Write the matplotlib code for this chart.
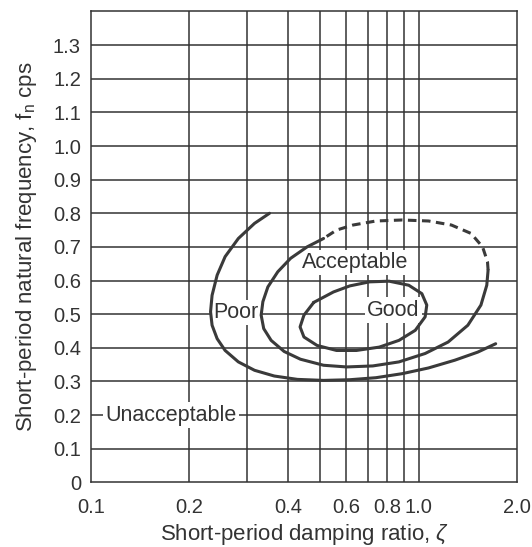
"""
Short-period flying qualities chart (damping ratio vs natural frequency)
"""

import matplotlib
matplotlib.use("Agg")
import matplotlib.pyplot as plt
from matplotlib.ticker import FixedLocator, NullLocator

plt.rcParams["font.family"] = ["Liberation Sans", "DejaVu Sans"]
plt.rcParams["mathtext.fontset"] = "custom"
plt.rcParams["mathtext.rm"] = "Liberation Sans"
plt.rcParams["mathtext.it"] = "Liberation Sans:italic"

INK = "#333333"

# outer boundary: Unacceptable / Poor
poor_x = [0.351, 0.316, 0.282, 0.257, 0.243, 0.2345, 0.232, 0.2345, 0.243, 0.257,
          0.282, 0.316, 0.363, 0.427, 0.513, 0.617, 0.741, 0.891, 1.072, 1.289,
          1.514, 1.718]
poor_y = [0.800, 0.770, 0.725, 0.671, 0.616, 0.556, 0.507, 0.467, 0.427, 0.392,
          0.358, 0.333, 0.316, 0.306, 0.303, 0.305, 0.311, 0.323, 0.340, 0.363,
          0.387, 0.412]

# middle boundary: Poor / Acceptable (solid part)
acc_x = [0.513, 0.457, 0.407, 0.372, 0.347, 0.335, 0.331, 0.337, 0.355, 0.389,
         0.436, 0.513, 0.603, 0.725, 0.871, 1.047, 1.230, 1.413, 1.549, 1.614,
         1.629]
acc_y = [0.725, 0.700, 0.666, 0.626, 0.581, 0.537, 0.497, 0.457, 0.422, 0.389,
         0.366, 0.348, 0.343, 0.346, 0.358, 0.383, 0.417, 0.467, 0.527, 0.586,
         0.631]

# middle boundary, dashed top part
acc_dash_x = [1.629, 1.622, 1.567, 1.445, 1.259, 1.072, 0.891, 0.741, 0.631, 0.562, 0.513]
acc_dash_y = [0.631, 0.656, 0.700, 0.740, 0.765, 0.777, 0.780, 0.777, 0.765, 0.750, 0.725]

# inner boundary: Acceptable / Good (closed)
good_x = [0.479, 0.447, 0.435, 0.447, 0.490, 0.562, 0.646, 0.759, 0.871, 0.977,
          1.047, 1.059, 1.023, 0.933, 0.813, 0.708, 0.617, 0.550, 0.501, 0.479]
good_y = [0.535, 0.497, 0.462, 0.432, 0.407, 0.392, 0.392, 0.402, 0.422, 0.452,
          0.492, 0.527, 0.561, 0.586, 0.598, 0.596, 0.584, 0.566, 0.545, 0.535]

region_names = ["Unacceptable", "Poor", "Acceptable", "Good"]
region_x = [0.1754, 0.278, 0.640, 0.836]
region_y = [0.200, 0.505, 0.653, 0.512]

x_ticks = [0.1, 0.2, 0.4, 0.6, 0.8, 1.0, 2.0]
x_tick_labels = ["0.1", "0.2", "0.4", "0.6", "0.8", "1.0", "2.0"]
x_grid = [0.2, 0.3, 0.4, 0.5, 0.6, 0.7, 0.8, 0.9, 1.0]
y_ticks = [0, 0.1, 0.2, 0.3, 0.4, 0.5, 0.6, 0.7, 0.8, 0.9, 1.0, 1.1, 1.2, 1.3]
y_tick_labels = ["0", "0.1", "0.2", "0.3", "0.4", "0.5", "0.6", "0.7", "0.8",
                 "0.9", "1.0", "1.1", "1.2", "1.3"]

fig = plt.figure(figsize=(5.32, 5.47), dpi=100)
ax = fig.add_axes([0.1705, 0.1183, 0.8019, 0.8607])
ax.set_xscale("log")
ax.set_xlim(0.1, 2.0)
ax.set_ylim(0, 1.4)

# grid
for gx in x_grid:
    ax.axvline(gx, color=INK, lw=1.1, zorder=1)
for gy in y_ticks[1:]:
    ax.axhline(gy, color=INK, lw=1.1, zorder=1)

curve_kw = dict(color="#3a3a3a", lw=2.2, solid_capstyle="round", zorder=4)
ax.plot(poor_x, poor_y, **curve_kw)
ax.plot(acc_x, acc_y, **curve_kw)
ax.plot(acc_dash_x, acc_dash_y, color="#3a3a3a", lw=2.2, dashes=(2.8, 1.8), zorder=4)
ax.plot(good_x, good_y, **curve_kw)

for name, tx, ty in zip(region_names, region_x, region_y):
    ax.text(tx, ty, name, fontsize=15.5, color=INK, ha="center", va="center", zorder=3,
            bbox=dict(facecolor="white", edgecolor="none", pad=1.5))

ax.xaxis.set_major_locator(FixedLocator(x_ticks))
ax.xaxis.set_minor_locator(NullLocator())
ax.set_xticklabels(x_tick_labels)
ax.set_yticks(y_ticks)
ax.set_yticklabels(y_tick_labels)
ax.tick_params(axis="both", length=0, labelsize=14.5, labelcolor=INK)
ax.tick_params(axis="x", pad=11.5)
ax.tick_params(axis="y", pad=7)

for s in ax.spines.values():
    s.set_color(INK)
    s.set_linewidth(1.1)

ax.set_xlabel(r"Short-period damping ratio, $\zeta$", fontsize=16, color=INK, labelpad=3.5)
ax.set_ylabel(r"Short-period natural frequency, f$_\mathregular{n}$ cps", fontsize=16,
              color=INK, labelpad=10)

fig.savefig("out.png", dpi=100)
